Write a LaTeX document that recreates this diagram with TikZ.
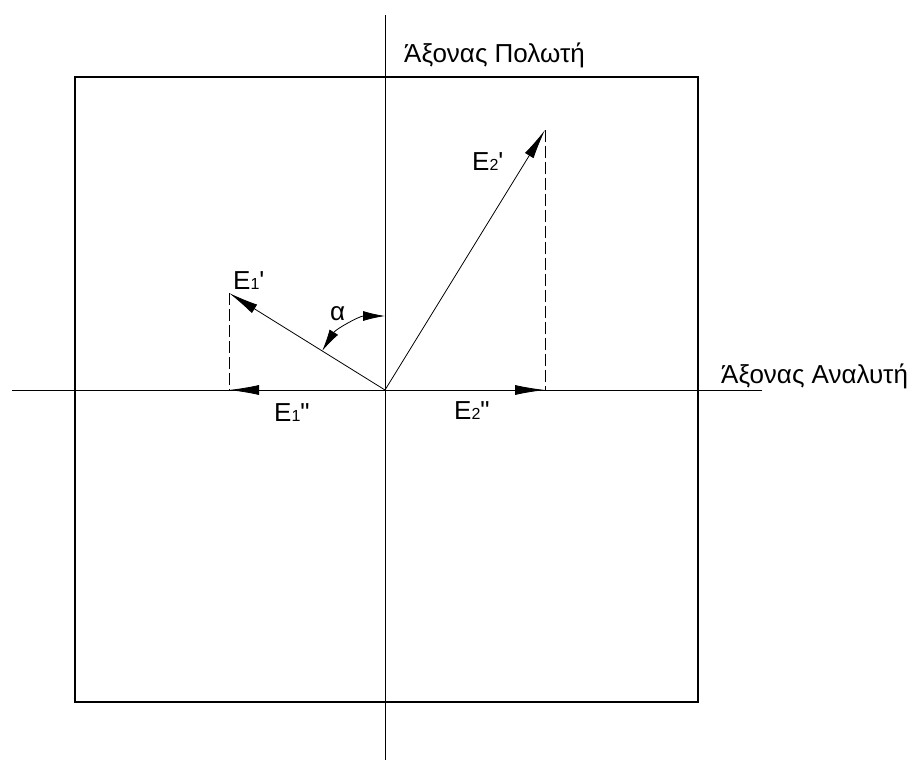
\documentclass[tikz,border=0pt]{standalone}
\usepackage{fontspec}
\setmainfont{Liberation Sans}[Ligatures=TeXOff]
\usetikzlibrary{arrows.meta}
\newcommand\Elab[2]{E{\fontsize{16}{16}\selectfont #1}#2}
\tikzset{
  thinline/.style={line width=0.8pt},
  frame/.style={line width=1.1pt},
  vec/.style={line width=0.8pt,-{Latex[length=30pt,width=10pt]}},
  dashline/.style={line width=0.8pt,dash pattern=on 12pt off 4pt},
  angarr/.style={line width=0.8pt,{Latex[length=22pt,width=10pt]}-{Latex[length=22pt,width=10pt]}},
  lbl/.style={inner sep=0pt,anchor=base west,font=\fontsize{26}{26}\selectfont},
}
\begin{document}
\begin{tikzpicture}[x=1pt,y=-1pt]
\useasboundingbox (0,0) rectangle (920,760);
% frame
\draw[frame] (75,77) rectangle (698,702);
% axes
\coordinate (O) at (385,390);
\coordinate (vtop) at (385,15);
\coordinate (vbot) at (385,760);
\coordinate (hl) at (12,390);
\coordinate (hr) at (762,390);
\draw[thinline] (vtop) -- (vbot);
\draw[thinline] (hl) -- (hr);
% vector tips
\coordinate (E1) at (229,293);
\coordinate (E2) at (545,130);
\coordinate (E1p) at (229,390);
\coordinate (E2p) at (545,390);
\draw[vec] (O) -- (E1);
\draw[vec] (O) -- (E2);
\draw[dashline] (E1) -- (E1p);
\draw[dashline] (E2) -- (E2p);
\draw[vec] (O) -- (E1p);
\draw[vec] (O) -- (E2p);
% angle alpha
\draw[angarr] ([shift={(-148.1:74)}]O) arc[start angle=-148.1,end angle=-90,radius=74];
% labels
\node[lbl] (t1) at (404,63) {Άξονας Πολωτή};
\node[lbl] (t2) at (721,383) {Άξονας Αναλυτή};
\node[lbl] (l1) at (233,289) {\Elab{1}{'}};
\node[lbl] (l2) at (472,170) {\Elab{2}{'}};
\node[lbl] (l3) at (274,421) {\Elab{1}{"}};
\node[lbl] (l4) at (454,419) {\Elab{2}{"}};
\node[lbl] (al) at (330,320) {α};
\end{tikzpicture}
\end{document}
